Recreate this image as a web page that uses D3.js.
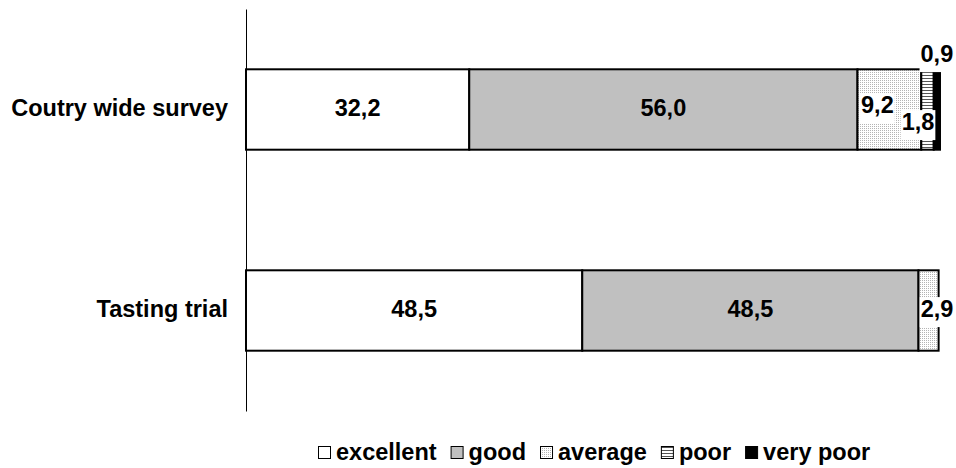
<!DOCTYPE html>
<html><head><meta charset="utf-8">
<script src="https://cdn.jsdelivr.net/npm/d3@7"></script>
<style>
html,body{margin:0;padding:0;background:#fff;}
svg text{font-family:"Liberation Sans",Arial,sans-serif;font-weight:bold;fill:#000;}
</style></head>
<body><svg id="chart" width="956" height="468"></svg>
<script>
// ---- data ----
const categories = ["Coutry wide survey", "Tasting trial"];
const seriesNames = ["excellent", "good", "average", "poor", "very poor"];
const excellent = [32.2, 48.5];
const good      = [56.0, 48.5];
const average   = [9.2, 2.9];
const poor      = [1.8, 0];
const veryPoor  = [0.9, 0];
const seriesValues = [excellent, good, average, poor, veryPoor];

// ---- layout ----
const svg = d3.select("#chart");
const x = d3.scaleLinear().domain([0, 100]).range([246, 939.3]);
const y = d3.scaleBand().domain(categories).range([9, 411]).paddingInner(0.6).paddingOuter(0.3);
const fontSize = 23.5;
const fmt = d3.formatLocale({decimal: ",", thousands: ".", grouping: [3], currency: ["", ""]}).format(".1f");

// patterns
const defs = svg.append("defs");
const pAvg = defs.append("pattern").attr("id", "pAvg").attr("patternUnits", "userSpaceOnUse").attr("width", 2).attr("height", 2);
pAvg.append("rect").attr("width", 2).attr("height", 2).attr("fill", "#ffffff");
pAvg.append("rect").attr("width", 1).attr("height", 1).attr("fill", "#b4b4b4");
const pPoor = defs.append("pattern").attr("id", "pPoor").attr("patternUnits", "userSpaceOnUse").attr("width", 3).attr("height", 3);
pPoor.append("rect").attr("width", 3).attr("height", 3).attr("fill", "#ffffff");
pPoor.append("rect").attr("width", 3).attr("height", 1).attr("fill", "#555555");

const fills = ["#ffffff", "#c0c0c0", "url(#pAvg)", "url(#pPoor)", "#000000"];

// stack
const rows = categories.map((c, i) => {
  const r = {cat: c};
  seriesNames.forEach((s, j) => r[s] = seriesValues[j][i]);
  return r;
});
const stacked = d3.stack().keys(seriesNames)(rows);

// bars
const gBars = svg.append("g");
stacked.forEach((layer, j) => {
  gBars.selectAll(null).data(layer.filter(d => d[1] - d[0] > 0)).enter().append("rect")
    .attr("x", d => x(d[0]))
    .attr("y", d => y(d.data.cat))
    .attr("width", d => x(d[1]) - x(d[0]))
    .attr("height", y.bandwidth())
    .attr("fill", fills[j])
    .attr("stroke", "#000")
    .attr("stroke-width", 2);
});

// axis
const axis = d3.axisLeft(y).tickSize(0).tickPadding(18);
const gAxis = svg.append("g").attr("transform", "translate(246,0)").call(axis);
gAxis.select(".domain").attr("stroke", "#000").attr("stroke-width", 1);
gAxis.selectAll("text").attr("font-size", fontSize).attr("dy", "0.28em")
  .attr("font-family", "'Liberation Sans',Arial,sans-serif").attr("font-weight", "bold").attr("fill", "#000");

// value labels (layout nudges for small segments)
const labelNudge = {
  "0-2": {dx: -12, dy: -3, box: true},
  "0-3": {dx: -9.5, dy: 14, box: true},
  "0-4": {dx: 0, dy: -54, box: true},
  "1-2": {dx: 8.5, dy: 0, box: true}
};
const gLab = svg.append("g");
stacked.forEach((layer, j) => {
  layer.forEach((d, i) => {
    if (d[1] - d[0] <= 0) return;
    const key = i + "-" + j;
    const n = labelNudge[key] || {dx: 0, dy: 0, box: false};
    const cx = (x(d[0]) + x(d[1])) / 2 + n.dx;
    const cy = y(d.data.cat) + y.bandwidth() / 2 + n.dy;
    const g = gLab.append("g");
    const t = g.append("text").attr("x", cx).attr("y", cy).attr("dy", "0.28em")
      .attr("text-anchor", "middle").attr("font-size", fontSize).text(fmt(d[1] - d[0]));
    if (n.box) {
      const bb = t.node().getBBox();
      g.insert("rect", "text").attr("x", bb.x - 1).attr("y", bb.y + 1)
        .attr("width", bb.width + 2).attr("height", bb.height + 4).attr("fill", "#fff");
    }
  });
});

// legend
const legend = svg.append("g");
const boxSize = 13;
let lx = 318;
const ly = 460;
seriesNames.forEach((s, j) => {
  legend.append("rect").attr("x", lx + 0.5).attr("y", ly - 13.5).attr("width", boxSize - 1).attr("height", boxSize - 1)
    .attr("fill", fills[j]).attr("stroke", "#000").attr("stroke-width", 1);
  const t = legend.append("text").attr("x", lx + boxSize + 5).attr("y", ly).attr("font-size", fontSize).text(s);
  lx += boxSize + 5 + t.node().getComputedTextLength() + 14;
});
</script></body></html>
